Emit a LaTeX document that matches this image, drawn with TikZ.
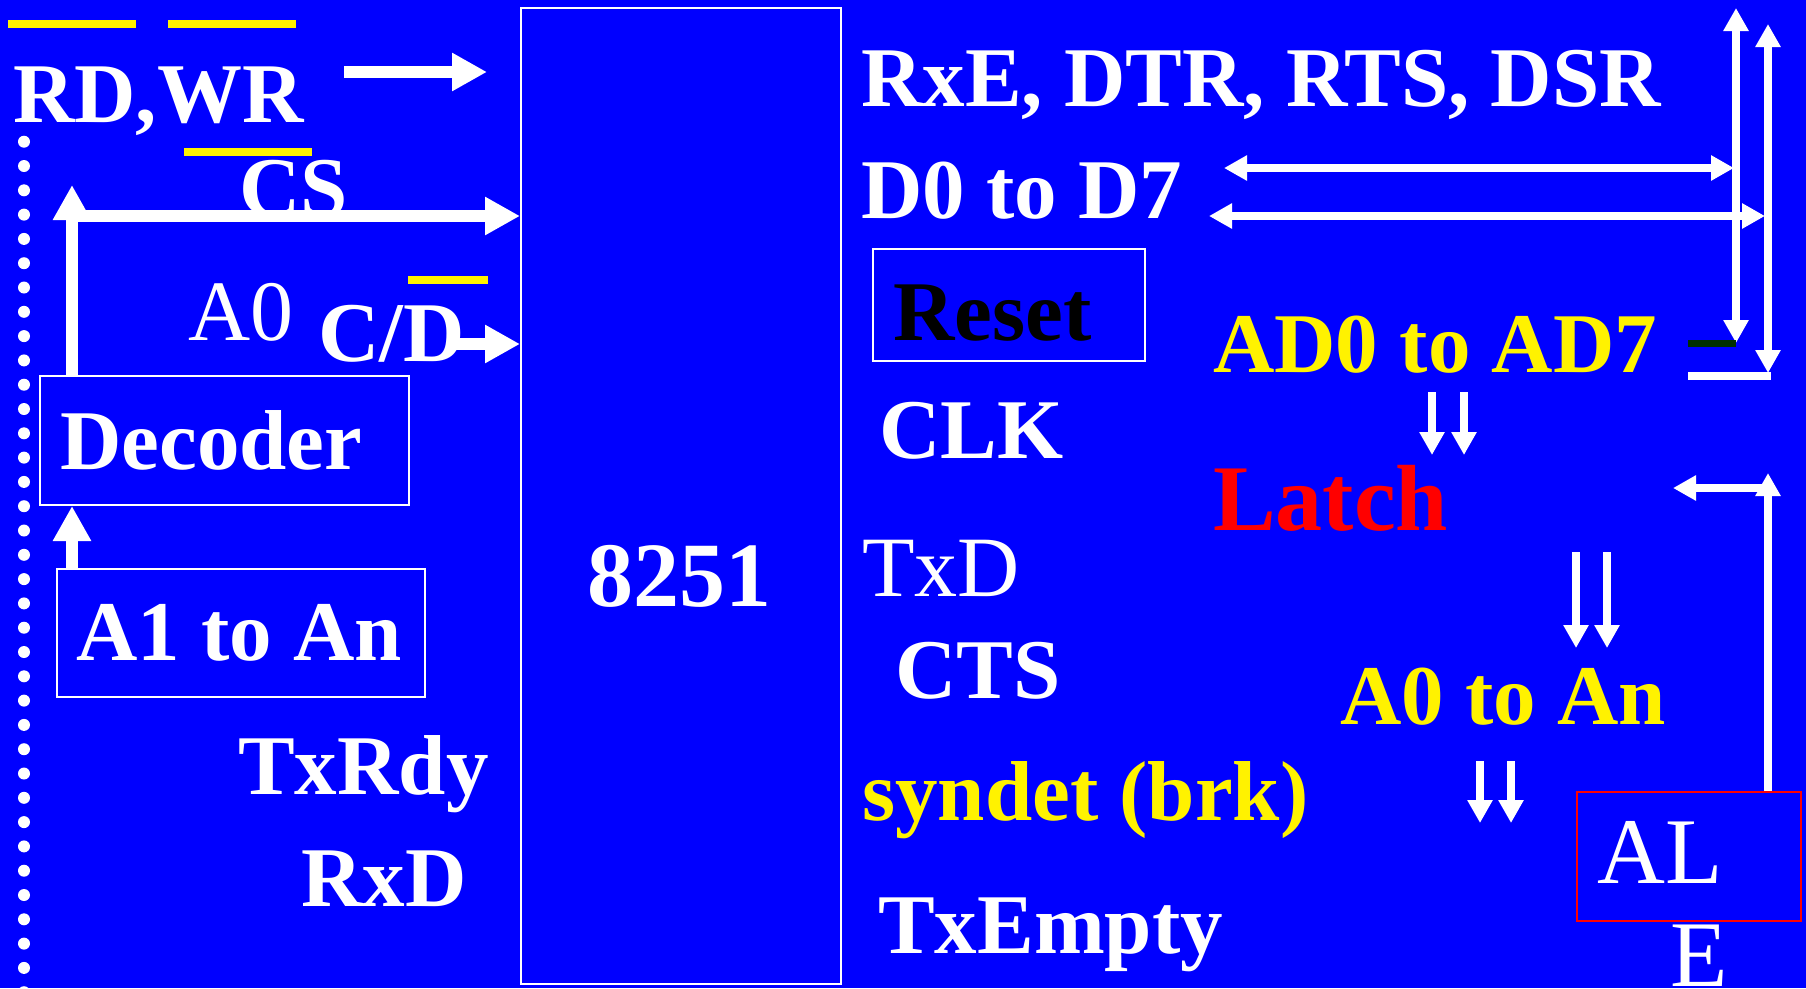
\documentclass[tikz,border=0pt]{standalone}
\usepackage{fontspec}
\setmainfont{Liberation Serif}
\usetikzlibrary{arrows.meta}
\definecolor{bg}{RGB}{0,0,255}
\definecolor{dkgreen}{RGB}{0,48,0}
\begin{document}
\begin{tikzpicture}[x=1pt,y=-1pt,
  lbl/.style={anchor=base west, inner sep=0pt, text=white, font=\bfseries\fontsize{85}{89}\selectfont},
  rlbl/.style={anchor=base west, inner sep=0pt, text=white, font=\fontsize{86}{90}\selectfont},
  wbox/.style={draw=white, line width=2pt, anchor=north west, inner sep=0pt},
  bigarrow/.style={draw=white, line width=12pt, -{Triangle[length=35pt,width=36pt]}},
  thinarrow/.style={draw=white, line width=7.5pt, -{Triangle[length=23pt,width=24pt]}},
  dblarrow/.style={draw=white, line width=7.5pt, {Triangle[length=23pt,width=24pt]}-{Triangle[length=23pt,width=24pt]}},
  ybar/.style={fill=yellow}
]
\useasboundingbox (0,0) rectangle (1806,988);
\clip (0,0) rectangle (1806,988);
\fill[bg] (0,0) rectangle (1806,988);

% dotted column
\draw[white, line width=12pt, line cap=round, dash pattern=on 0pt off 24.3pt] (24,141.7) -- (24,1010);

% boxes
\node[wbox, minimum width=320pt, minimum height=976pt, line width=1.5pt] (chip) at (520,7) {};
\node[wbox, minimum width=369pt, minimum height=129pt] (dec) at (39,375) {};
\node[wbox, minimum width=368pt, minimum height=128pt] (a1box) at (56,568) {};
\node[wbox, minimum width=272pt, minimum height=112pt] (resetbox) at (872,248) {};
\node[wbox, draw=red, minimum width=224pt, minimum height=129pt] (albox) at (1576,791) {};

% overbars
\fill[ybar] (8,20) rectangle (136,28);
\fill[ybar] (168,20) rectangle (296,28);
\fill[ybar] (184,148) rectangle (312,156);
\fill[ybar] (408,276) rectangle (488,284);

% left labels
\node[lbl] (rdwr) at (13,122) {RD,WR};
\node[lbl] (cs) at (239,216) {CS};
\node[rlbl] (a0) at (188,340) {A0};
\node[lbl] (cd) at (318,361) {C/D};
\node[lbl] (dectxt) at (60,469) {Decoder};
\node[lbl] (a1txt) at (76,660) {A1 to An};
\node[lbl] (txrdy) at (238,794) {TxRdy};
\node[lbl] (rxd) at (301,906) {RxD};
\node[lbl, font=\bfseries\fontsize{92}{96}\selectfont] (chiptxt) at (587,606) {8251};

% right labels
\node[lbl] (rxe) at (861,106) {RxE, DTR, RTS, DSR};
\node[lbl] (d07) at (861,218) {D0 to D7};
\node[lbl, text=black] (reset) at (893,340) {Reset};
\node[lbl] (clk) at (879,458) {CLK};
\node[rlbl] (txd) at (862,596) {TxD};
\node[lbl] (cts) at (895,698) {CTS};
\node[lbl, text=yellow] (syndet) at (862,820) {syndet (brk)};
\node[lbl] (txempty) at (878,953) {TxEmpty};
\node[lbl, text=yellow] (ad07) at (1213,372) {AD0 to AD7};
\node[lbl, text=red, font=\bfseries\fontsize{94}{98}\selectfont] (latch) at (1213,530) {Latch};
\node[lbl, text=yellow] (a0an) at (1340,724) {A0 to An};
\node[rlbl, font=\fontsize{94}{98}\selectfont] (al) at (1597,883) {AL};
\node[rlbl, font=\fontsize{94}{98}\selectfont] (e) at (1670,986) {E};

% left arrows
\coordinate (rdwrS) at (344,72);
\coordinate (rdwrT) at (487,72);
\draw[bigarrow] (rdwrS) -- (rdwrT);
\coordinate (csT) at (72,185);
\draw[bigarrow] (dec.north west -| csT) -- (csT);
\coordinate (csL) at (66,216);
\draw[bigarrow] (csL) -- (csL -| chip.west);
\coordinate (cdS) at (455,344);
\draw[bigarrow] (cdS) -- (cdS -| chip.west);
\draw[bigarrow] (a1box.north west -| csT) -- (dec.south west -| csT);

% right bus arrows
\coordinate (v1t) at (1736,8);
\coordinate (v1b) at (1736,343);
\draw[dblarrow] (v1b) -- (v1t);
\coordinate (v2t) at (1768,24);
\coordinate (v2b) at (1768,373);
\draw[dblarrow] (v2b) -- (v2t);
\coordinate (h1L) at (1224,168);
\draw[dblarrow] (h1L) -- (1734,168);
\coordinate (h2L) at (1209,216);
\draw[dblarrow] (h2L) -- (1765,216);
\fill[dkgreen] (1688,340) rectangle (1736,347);
\fill[white] (1688,372) rectangle (1771,380);

% down pairs
\foreach \xx in {1432,1464} \draw[thinarrow] (\xx,392) -- (\xx,455);
\foreach \xx in {1576,1607} \draw[thinarrow] (\xx,552) -- (\xx,648);
\foreach \xx in {1480,1511} \draw[thinarrow] (\xx,761) -- (\xx,823);

% ALE
\coordinate (aleT) at (1768,473);
\draw[thinarrow] (albox.north -| aleT) -- (aleT);
\coordinate (aleH) at (1772,488);
\draw[thinarrow] (aleH) -- (1673,488);
\end{tikzpicture}
\end{document}
